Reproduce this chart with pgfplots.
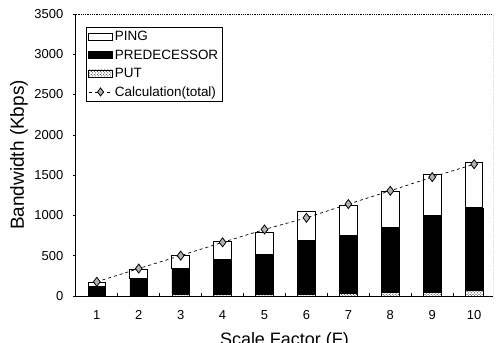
\documentclass[border=0pt]{standalone}
\usepackage{fontspec}
\setmainfont{Liberation Sans}
\usepackage{pgfplots}
\usepackage{pgfplotstable}
\pgfplotsset{compat=1.18}
\usetikzlibrary{patterns}

\pgfplotstableread{
x put pred ping
1 8 108 50
2 10 210 112
3 15 330 153
4 18 430 228
5 20 500 270
6 25 660 365
7 35 712 378
8 40 815 436
9 45 951 511
10 65 1027 560
}\bars

\pgfplotstableread{
x calc
1 175
2 340
3 500
4 665
5 825
6 970
7 1140
8 1305
9 1475
10 1635
}\calc

\pgfplotsset{
  boxlegend/.style={legend image code/.code={\draw[##1] (0pt,-3.5pt) rectangle (24pt,3.5pt);}},
  linelegend/.style={legend image code/.code={\draw[mark repeat=2,mark phase=2,##1] plot coordinates {(0pt,0pt) (12pt,0pt) (24pt,0pt)};}},
  common/.style={at={(0,0)}, anchor=south west, scale only axis,
    width=418pt, height=282.5pt, xmin=0.5, xmax=10.45, ymin=0, ymax=3500},
}

\begin{document}
\begin{tikzpicture}
\path[use as bounding box] (-76pt,-46.5pt) rectangle (421pt,296.5pt);
\begin{axis}[common,
  ybar stacked, bar width=0.42,
  axis x line*=bottom, axis y line*=left,
  axis line style={-, line width=0.8pt},
  ytick={0,500,...,3500},
  xtick={1,...,10},
  minor xtick={1.5,2.5,...,9.5},
  major x tick style={draw=none},
  minor tick length=3pt,
  major tick length=3pt,
  y tick style={xshift=-3pt, line width=0.6pt, black},
  x tick style={line width=0.6pt, black},
  /pgf/number format/assume math mode=true,
  /pgf/number format/1000 sep={},
  tick label style={font=\fontsize{13}{15}\selectfont},
  xticklabel style={yshift=-11pt},
  yticklabel style={xshift=-9pt},
  xlabel={Scale Factor (F)},
  xlabel style={at={(axis description cs:0.5,0)}, anchor=north, inner sep=0pt, yshift=-36pt, font=\fontsize{18}{20}\selectfont},
  ylabel={Bandwidth (Kbps)},
  ylabel style={at={(axis description cs:-0.1364,0.5)}, anchor=center, font=\fontsize{19}{21}\selectfont},
]
\addplot[draw=black, line width=0.6pt, pattern=crosshatch dots, pattern color=black] table[x=x, y=put] {\bars};
\addplot[draw=black, line width=0.6pt, fill=black] table[x=x, y=pred] {\bars};
\addplot[draw=black, line width=1pt, fill=white] table[x=x, y=ping] {\bars};
\draw[densely dotted, line width=0.8pt] (rel axis cs:0,1) -- (rel axis cs:1,1) -- (rel axis cs:1,0);
\end{axis}
\begin{axis}[common, hide axis,
  legend style={at={(0.024,0.954)}, anchor=north west, draw=black, line width=0.6pt,
    font=\fontsize{13.5}{15}\selectfont, row sep=3.5pt, inner sep=2pt},
  legend cell align=left,
]
\addlegendimage{boxlegend, draw=black, fill=white, line width=0.8pt}
\addlegendentry{PING}
\addlegendimage{boxlegend, draw=black, fill=black}
\addlegendentry{PREDECESSOR}
\addlegendimage{boxlegend, draw=black, pattern=crosshatch dots, pattern color=black}
\addlegendentry{PUT}
\addlegendimage{linelegend, black, dashed, line width=0.6pt, mark=diamond*, mark size=4pt, mark options={solid, fill=gray!60, draw=black, line width=0.8pt}}
\addlegendentry{Calculation(total)}
\addplot[black, dashed, line width=0.7pt, mark=diamond*, mark size=4.5pt, mark options={solid, fill=gray!60, draw=black, line width=0.8pt}, forget plot] table[x=x, y=calc] {\calc};
\end{axis}
\end{tikzpicture}
\end{document}
